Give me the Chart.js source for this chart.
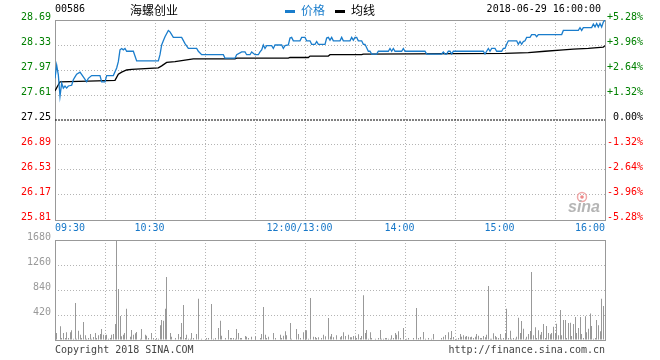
<!DOCTYPE html>
<html><head><meta charset="utf-8">
<script src="https://cdn.jsdelivr.net/npm/chart.js@4/dist/chart.umd.min.js"></script>
<style>
html,body{margin:0;padding:0;background:#fff;}
#wrap{position:relative;width:660px;height:360px;overflow:hidden;background:#fff;}
canvas{position:absolute;left:0;}
#c1{top:0;}
#c2{top:224px;}
</style></head><body>
<div id="wrap"><canvas id="c1" width="660" height="236"></canvas><canvas id="c2" width="660" height="136"></canvas></div>
<script>
const stockCode = '00586';
const stockName = '海螺创业';
const dateTime = '2018-06-29 16:00:00';
const legendPrice = '价格';
const legendAvg = '均线';
const copyrightText = 'Copyright 2018 SINA.COM';
const siteText = 'http://finance.sina.com.cn';
const prevClose = 27.25;
const priceTicks = [25.81, 26.17, 26.53, 26.89, 27.25, 27.61, 27.97, 28.33, 28.69];
const pctTicks = ['-5.28%', '-3.96%', '-2.64%', '-1.32%', ' 0.00%', '+1.32%', '+2.64%', '+3.96%', '+5.28%'];
const gridMinutes = [0, 30, 60, 90, 120, 150, 180, 210, 240, 270, 300, 330];
const timeLabelMinutes = [0, 60, 150, 210, 270, 330];
const timeLabels = ['09:30', '10:30', '12:00/13:00', '14:00', '15:00', '16:00'];
const volTicks = [0, 420, 840, 1260, 1680];

const priceMinutes = [0,1,2,3,4,5,6,7,8,10,11,12,13,15,17,19,20,22,27,28,30,31,35,37,38,39,40,41,42,43,47,49,62,63,64,65,66,68,69,71,76,78,80,85,86,88,101,102,108,109,112,114,115,117,118,120,122,123,124,125,126,127,130,131,132,136,137,138,140,141,142,143,147,148,150,151,153,154,156,157,158,162,163,164,165,166,167,171,172,173,177,178,179,180,181,182,184,185,186,187,188,189,190,193,194,200,201,202,203,204,208,209,210,222,223,232,233,234,235,236,237,238,239,257,258,259,260,261,262,264,265,268,269,270,271,272,277,278,279,280,281,282,283,285,286,288,289,290,304,305,314,315,316,317,322,323,324,325,326,327,328,329,330];
const priceValues = [27.85,28.04,27.90,27.59,27.78,27.71,27.74,27.71,27.74,27.75,27.83,27.87,27.91,27.94,27.87,27.80,27.85,27.89,27.89,27.80,27.80,27.89,27.89,28.00,28.09,28.26,28.28,28.26,28.28,28.24,28.24,28.10,28.10,28.19,28.33,28.39,28.45,28.54,28.52,28.44,28.44,28.35,28.28,28.28,28.24,28.19,28.19,28.14,28.14,28.19,28.23,28.23,28.19,28.19,28.23,28.19,28.19,28.23,28.26,28.33,28.28,28.32,28.32,28.28,28.33,28.33,28.28,28.32,28.33,28.43,28.44,28.39,28.39,28.44,28.44,28.39,28.39,28.34,28.34,28.38,28.34,28.34,28.43,28.44,28.40,28.44,28.39,28.39,28.44,28.39,28.39,28.44,28.40,28.44,28.44,28.39,28.39,28.34,28.34,28.29,28.24,28.24,28.20,28.20,28.24,28.24,28.28,28.24,28.28,28.24,28.24,28.28,28.24,28.24,28.20,28.20,28.23,28.20,28.20,28.24,28.24,28.20,28.24,28.24,28.20,28.24,28.28,28.24,28.28,28.28,28.24,28.24,28.28,28.28,28.34,28.39,28.39,28.34,28.38,28.34,28.38,28.39,28.44,28.44,28.48,28.48,28.45,28.48,28.48,28.54,28.54,28.58,28.54,28.58,28.58,28.63,28.59,28.64,28.59,28.64,28.59,28.66,28.69];

const avgMinutes = [0,3,20,36,38,40,43,46,62,64,67,72,77,83,108,109,140,141,152,153,164,165,184,185,270,284,294,305,311,320,329,330];
const avgValues = [27.67,27.80,27.81,27.82,27.91,27.94,27.97,27.98,28.00,28.03,28.08,28.09,28.11,28.13,28.13,28.14,28.14,28.15,28.15,28.17,28.17,28.19,28.19,28.20,28.21,28.22,28.24,28.26,28.27,28.28,28.30,28.32];

const volMinutes = [1,3,4,5,6,7,8,9,10,11,12,13,14,15,16,17,18,19,20,21,22,23,24,25,26,27,28,29,30,31,32,33,34,35,36,37,38,39,40,41,42,43,45,46,47,48,49,51,52,54,55,56,58,59,61,62,63,64,65,66,67,69,70,72,74,75,76,77,78,79,80,81,82,83,85,86,88,91,92,94,95,96,98,99,100,102,104,105,106,107,108,109,110,111,112,114,115,116,118,120,123,124,125,126,127,128,131,132,135,136,137,138,139,141,142,145,146,147,149,150,151,152,153,155,156,157,158,160,161,162,164,165,166,167,169,171,172,173,174,176,177,178,179,180,181,182,183,184,185,186,187,188,189,190,192,194,195,196,197,198,199,200,201,202,203,204,205,206,207,209,211,212,215,217,218,219,221,222,224,226,227,232,233,234,236,237,238,239,241,242,243,244,245,246,247,248,249,250,251,252,253,254,255,256,257,258,259,260,261,262,263,264,265,266,267,268,269,270,271,272,273,274,275,276,277,278,279,280,281,282,283,284,285,286,287,288,289,290,291,292,293,294,295,296,297,298,299,300,301,302,303,304,305,306,307,308,309,310,311,312,313,314,315,316,317,318,319,320,321,322,323,324,325,326,327,328,329,330];
const volValues = [118,230,34,118,34,129,34,129,162,22,622,22,157,90,34,302,78,22,34,101,22,50,118,34,78,101,185,90,78,90,22,34,90,101,269,1680,857,403,62,90,118,526,56,168,90,112,134,22,185,90,73,34,118,34,34,22,246,336,325,526,1058,118,56,34,101,50,285,588,34,90,22,22,118,34,101,694,22,34,34,605,22,34,202,325,73,34,168,34,34,34,22,185,118,34,34,67,56,34,56,62,34,101,554,90,34,56,118,34,90,34,73,146,78,286,22,185,101,34,129,162,162,22,706,56,50,34,45,34,90,62,370,60,101,45,78,45,67,129,67,90,45,45,67,73,34,95,34,67,750,118,168,22,129,34,22,34,168,22,22,34,34,22,22,78,34,118,90,146,34,202,22,34,34,538,34,50,134,22,34,22,101,34,56,84,129,34,151,50,22,34,101,56,78,56,67,56,45,56,34,56,101,73,34,34,67,45,90,907,22,22,112,67,45,34,101,22,34,118,526,34,157,22,34,22,56,375,118,319,190,22,56,101,151,1142,78,213,34,162,90,134,269,34,235,118,95,118,224,118,275,78,504,78,336,336,34,286,291,67,269,386,118,202,386,101,34,398,129,190,445,235,22,34,336,246,146,694,571,722];

const mono = '"DejaVu Sans Mono", monospace';
const cjk = '"Noto Sans CJK SC", sans-serif';
const GREEN = '#008000', RED = '#ff0000', BLUE = '#1a7dcc', GRID = '#b4b4b4', FRAME = '#999999', TIMEBLUE = '#1878c8';
function tickColor(v) { return v > prevClose + 1e-6 ? GREEN : (v < prevClose - 1e-6 ? RED : '#000000'); }

const framePlugin = {
  id: 'frame',
  beforeDatasetsDraw(chart) {
    const a = chart.chartArea, ctx = chart.ctx;
    ctx.save();
    ctx.strokeStyle = FRAME; ctx.lineWidth = 1; ctx.setLineDash([]);
    ctx.strokeRect(Math.round(a.left) + 0.5, Math.round(a.top) + 0.5, Math.round(a.right - a.left), Math.round(a.bottom - a.top));
    ctx.restore();
  }
};

const snapPlugin = {
  id: 'snap',
  beforeDatasetsDraw(chart) {
    chart.getDatasetMeta(0).data.forEach(el => { el.x = Math.floor(el.x) + 0.5; });
  }
};

const headerPlugin = {
  id: 'header',
  afterDraw(chart) {
    const ctx = chart.ctx;
    ctx.save();
    ctx.textBaseline = 'middle';
    ctx.fillStyle = '#000'; ctx.font = '10px ' + mono; ctx.textAlign = 'left';
    ctx.fillText(stockCode, 55, 9);
    ctx.font = '12px ' + cjk;
    ctx.fillText(stockName, 130, 10);
    ctx.fillStyle = BLUE; ctx.fillRect(285, 10, 10, 3);
    ctx.fillText(legendPrice, 301, 10);
    ctx.fillStyle = '#000'; ctx.fillRect(335, 10, 10, 3);
    ctx.fillText(legendAvg, 351, 10);
    ctx.font = '10px ' + mono; ctx.textAlign = 'right';
    ctx.fillText(dateTime, 601, 9);
    const xs = chart.scales.x;
    ctx.fillStyle = TIMEBLUE; ctx.font = '10px ' + mono;
    timeLabelMinutes.forEach((m, i) => {
      const px = xs.getPixelForValue(m);
      if (i === 0) { ctx.textAlign = 'left'; ctx.fillText(timeLabels[i], px, 228); }
      else if (i === timeLabelMinutes.length - 1) { ctx.textAlign = 'right'; ctx.fillText(timeLabels[i], px, 228); }
      else { ctx.textAlign = 'center'; ctx.fillText(timeLabels[i], px - 5.5, 228); }
    });
    ctx.strokeStyle = '#f0a8a8'; ctx.lineWidth = 1.5;
    ctx.beginPath(); ctx.arc(582, 197, 4.5, 0, Math.PI * 2); ctx.stroke();
    ctx.fillStyle = '#e88'; ctx.beginPath(); ctx.arc(582, 197, 1.8, 0, Math.PI * 2); ctx.fill();
    ctx.fillStyle = '#b5b5b5'; ctx.font = 'italic bold 16px "Liberation Sans", sans-serif';
    ctx.textAlign = 'left'; ctx.textBaseline = 'alphabetic';
    ctx.fillText('sina', 568, 212);
    ctx.restore();
  }
};

const footerPlugin = {
  id: 'footer',
  afterDraw(chart) {
    const ctx = chart.ctx;
    ctx.save();
    ctx.textBaseline = 'middle'; ctx.fillStyle = '#444'; ctx.font = '10px ' + mono;
    ctx.textAlign = 'left'; ctx.fillText(copyrightText, 55, 126);
    ctx.textAlign = 'right'; ctx.fillText(siteText, 605, 126);
    ctx.restore();
  }
};

new Chart(document.getElementById('c1'), {
  type: 'line',
  data: { datasets: [
    { label: legendPrice, data: priceMinutes.map((m, i) => ({ x: m, y: priceValues[i] })), borderColor: BLUE, borderWidth: 1.3, pointRadius: 0, tension: 0, order: 1 },
    { label: legendAvg, data: avgMinutes.map((m, i) => ({ x: m, y: avgValues[i] })), borderColor: '#000', borderWidth: 1.3, pointRadius: 0, tension: 0, order: 2 },
    { label: 'prev', data: [{ x: 0, y: prevClose }, { x: 330, y: prevClose }], borderColor: '#000', borderWidth: 1, borderDash: [2, 1], pointRadius: 0, order: 3 }
  ] },
  options: {
    responsive: false, animation: false, devicePixelRatio: 1,
    layout: { padding: { top: 20, left: 0, right: 0, bottom: 0 } },
    plugins: { legend: { display: false }, tooltip: { enabled: false } },
    scales: {
      x: { type: 'linear', min: 0, max: 330,
        afterBuildTicks(s) { s.ticks = gridMinutes.map(v => ({ value: v })); },
        afterFit(s) { s.height = 16; },
        ticks: { display: false },
        grid: { color: GRID, drawTicks: false, lineWidth: 1 },
        border: { display: false, dash: [1, 2] } },
      y: { position: 'left', min: 25.81, max: 28.69,
        afterBuildTicks(s) { s.ticks = priceTicks.map(v => ({ value: v })); },
        afterFit(s) { s.width = 55; },
        ticks: { font: { family: mono, size: 10 }, color: c => tickColor(c.tick.value), padding: 4, labelOffset: -3, autoSkip: false, callback: v => Number(v).toFixed(2) },
        grid: { color: c => (c.tick && Math.abs(c.tick.value - prevClose) < 1e-6) ? 'rgba(0,0,0,0)' : GRID, drawTicks: false, lineWidth: 1 },
        border: { display: false, dash: [1, 2] } },
      y2: { position: 'right', min: 25.81, max: 28.69,
        afterBuildTicks(s) { s.ticks = priceTicks.map(v => ({ value: v })); },
        afterFit(s) { s.width = 55; },
        ticks: { font: { family: mono, size: 10 }, color: c => tickColor(c.tick.value), padding: 2, labelOffset: -3, autoSkip: false, callback: (v, i) => pctTicks[i] },
        grid: { display: false, drawTicks: false },
        border: { display: false } }
    }
  },
  plugins: [framePlugin, headerPlugin]
});

new Chart(document.getElementById('c2'), {
  type: 'bar',
  data: { datasets: [
    { label: 'vol', data: volMinutes.map((m, i) => ({ x: m, y: volValues[i] })), backgroundColor: '#999999', borderWidth: 0, barThickness: 1, inflateAmount: 0 }
  ] },
  options: {
    responsive: false, animation: false, devicePixelRatio: 1,
    layout: { padding: { top: 16, left: 0, right: 55, bottom: 0 } },
    plugins: { legend: { display: false }, tooltip: { enabled: false } },
    scales: {
      x: { type: 'linear', min: 0, max: 330, offset: false,
        afterBuildTicks(s) { s.ticks = gridMinutes.map(v => ({ value: v })); },
        afterFit(s) { s.height = 20; },
        ticks: { display: false },
        grid: { color: GRID, drawTicks: false, lineWidth: 1, offset: false },
        border: { display: false, dash: [1, 2] } },
      y: { position: 'left', min: 0, max: 1680,
        afterBuildTicks(s) { s.ticks = volTicks.map(v => ({ value: v })); },
        afterFit(s) { s.width = 55; },
        ticks: { font: { family: mono, size: 10 }, color: '#999999', padding: 4, labelOffset: -2.5, autoSkip: false, callback: v => (v === 0 ? '' : String(v)) },
        grid: { color: c => (c.tick && (c.tick.value === 0 || c.tick.value === 1680)) ? 'rgba(0,0,0,0)' : GRID, drawTicks: false, lineWidth: 1 },
        border: { display: false, dash: [1, 2] } }
    }
  },
  plugins: [framePlugin, snapPlugin, footerPlugin]
});
</script>
</body></html>
